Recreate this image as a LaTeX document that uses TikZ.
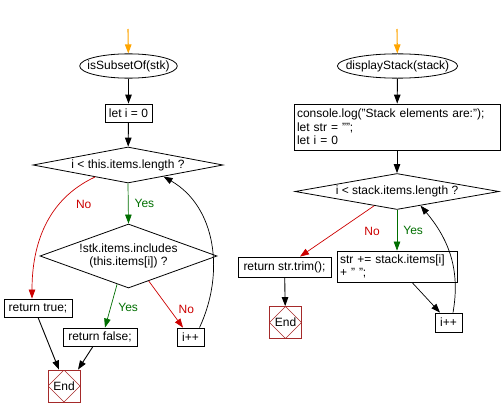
\documentclass[tikz,border=0pt]{standalone}
\usepackage{fontspec}
\setmainfont{Liberation Sans}
\usetikzlibrary{positioning, shapes.geometric, arrows.meta, calc}
\definecolor{accY}{RGB}{0,110,0}
\definecolor{accN}{RGB}{204,0,0}
\definecolor{accS}{RGB}{255,165,0}
\definecolor{accE}{RGB}{165,42,42}
\tikzset{
  card/.style  ={draw=black, line width=0.8pt, inner sep=3pt,
                 align=center, font=\fontsize{12}{13.3}\selectfont},
  Lterm/.style ={card, ellipse, inner ysep=3pt, inner xsep=#1},
  Lbox/.style  ={card, minimum height=18pt},
  Lcode/.style ={card, align=left, inner xsep=3pt},
  Lcond/.style ={card, diamond, inner sep=0pt, aspect=#1},
  Lend/.style  ={draw=accE, line width=0.8pt, minimum size=32pt,
                 inner sep=0pt, font=\fontsize{12}{13.3}\selectfont,
                 path picture={\draw[accE, line width=0.5pt]
                   (path picture bounding box.north) -- (path picture bounding box.east)
                   -- (path picture bounding box.south) -- (path picture bounding box.west) -- cycle;}},
  flow/.style  ={-{Triangle[length=9pt,width=6.5pt]}, line width=0.9pt},
  flowY/.style ={flow, accY, line width=0.7pt},
  flowN/.style ={flow, accN, line width=0.7pt},
  flowS/.style ={flow, accS, line width=1.1pt},
  lab/.style   ={font=\fontsize{12}{13.3}\selectfont, inner sep=0pt},
}

\begin{document}
\begin{tikzpicture}[x=1pt, y=-1pt]
\useasboundingbox (0,0) rectangle (502,417);

% isSubsetOf
\coordinate (startL) at (128,29);
\node[Lterm=-6.5pt] (subset) at (128.5,66) {isSubsetOf(stk)};
\node[Lbox, minimum width=47pt] (leti) at (128.5,113) {let i = 0};
\node[Lcond=5.28, minimum width=190pt, minimum height=36pt] (cond1) at (128,165) {i < this.items.length ?};
\node[Lcond=2.77, minimum width=177pt, minimum height=64pt] (cond2) at (128.5,256) {!stk.items.includes\\(this.items[i]) ?};
\node[Lbox, minimum width=68pt] (rettrue) at (38,308) {return true;};
\node[Lbox, minimum width=74pt] (retfalse) at (100,337) {return false;};
\node[Lbox, minimum width=27pt] (ipp1) at (190.5,337) {i++};
\node[Lend] (endL) at (64,386) {End};

\draw[flowS] (startL) -- (subset);
\draw[flow] (subset) -- (leti);
\draw[flow] (leti) -- (cond1);
\draw[flowY] (cond1.south) -- node[lab, text=accY, right=6pt] (yes1) {Yes} (cond2.north);
\draw[flowN] (cond1.200) to[out=205, in=90]
  node[lab, text=accN, pos=0.25, anchor=west, xshift=11pt, yshift=-6pt] (no1) {No}
  ([xshift=-6pt]rettrue.north);
\draw[flowY] (cond2.248) -- node[lab, text=accY, right=7pt, yshift=-2pt] (yes2) {Yes} ([xshift=5pt]retfalse.north);
\draw[flowN] (cond2.309) -- node[lab, text=accN, pos=0.6, right=9pt] (no2) {No} ([xshift=-7.5pt]ipp1.north);
\draw[flow] (rettrue.south) -- ([xshift=-5pt]endL.north);
\draw[flow] ([xshift=-7pt]retfalse.south) -- ([xshift=14pt]endL.north);
\draw[flow, line width=0.7pt] ([xshift=9pt]ipp1.north) to[out=65, in=-30] (cond1.342);

% displayStack
\coordinate (startR) at (397,29);
\node[Lterm=-9.2pt] (disp) at (397.5,66) {displayStack(stack)};
\node[Lcode, text width=200pt, minimum height=46pt] (init) at (397,127)
  {console.log("Stack elements are:");\\let str = "";\\let i = 0};
\node[Lcond=5.67, minimum width=204pt, minimum height=36pt] (cond3) at (397,191.5) {i < stack.items.length ?};
\node[Lbox, minimum width=93pt, minimum height=20pt] (trim) at (284.5,267) {return str.trim();};
\node[Lcode, text width=114pt, minimum height=31pt] (strbox) at (397,266.5) {str += stack.items[i]\\+ " ";};
\node[Lbox, minimum width=27pt, minimum height=19pt] (ipp2) at (448.5,322.5) {i++};
\node[Lend] (endR) at (285.5,322.5) {End};

\draw[flowS] (startR) -- (disp);
\draw[flow] (disp) -- (init);
\draw[flow] (init) -- (cond3);
\draw[flowN] (cond3.212) -- node[lab, text=accN, right=27pt] (no3) {No} ([xshift=15.5pt]trim.north);
\draw[flowY] (cond3.south) -- node[lab, text=accY, right=6pt] (yes3) {Yes} (strbox.north);
\draw[flow] (trim) -- (endR);
\draw[flow, line width=0.7pt] ([xshift=15pt]strbox.south) -- ([xshift=-8.5pt]ipp2.north);
\draw[flow, line width=0.7pt] ([xshift=4.5pt]ipp2.north) to[out=80, in=-50] (cond3.329);

\end{tikzpicture}
\end{document}
